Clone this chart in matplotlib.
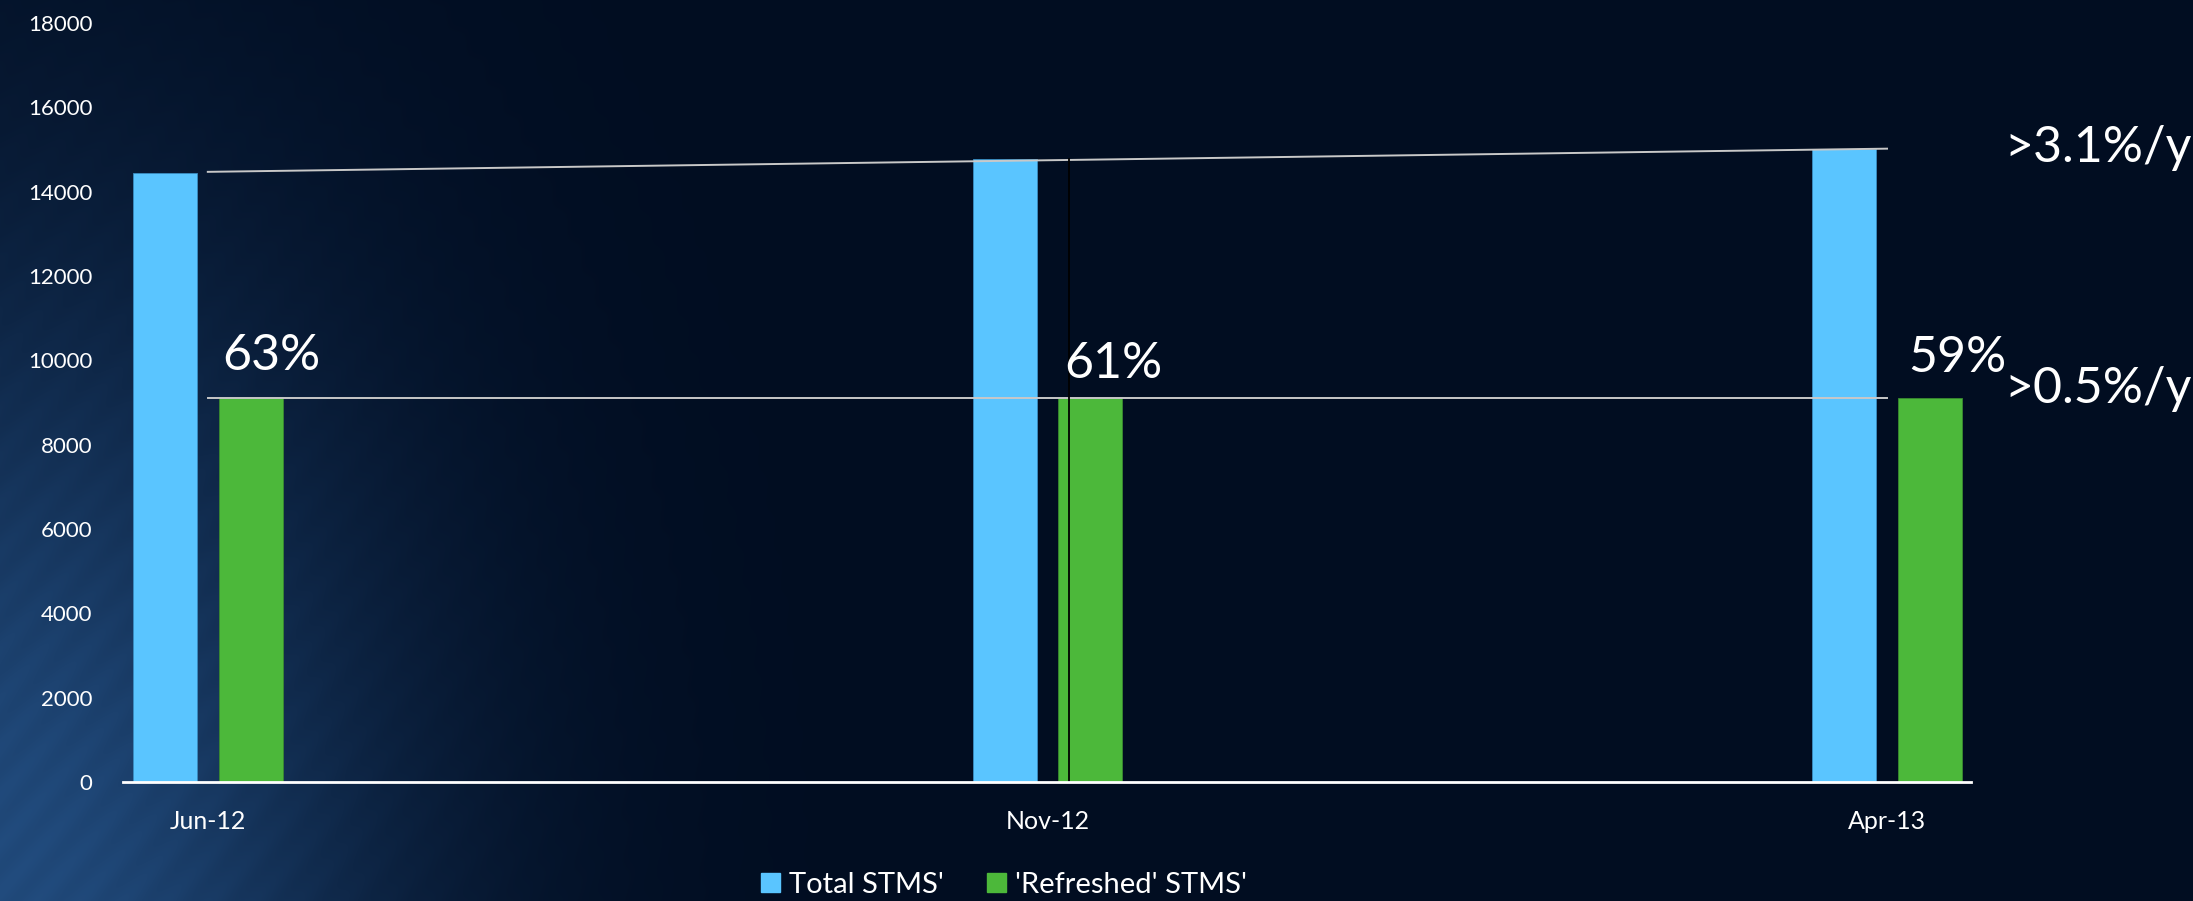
import matplotlib
matplotlib.use('Agg')
import matplotlib.pyplot as plt
import numpy as np
from matplotlib.patches import Patch

# ---------------- data ----------------
categories = ['Jun-12', 'Nov-12', 'Apr-13']
total_stms = [14450, 14780, 15020]
refreshed_stms = [9100, 9100, 9100]
pct_labels = ['63%', '61%', '59%']
pct_heights = [9770, 9590, 9730]
trend_top = [14470, 15020]
trend_low = [9110, 9110]
growth_labels = ['>3.1%/y', '>0.5%/y']
yticks = list(range(0, 18001, 2000))

blue = '#5AC5FF'
green = '#4CB83A'
font = ['Lato', 'DejaVu Sans']

W, H = 2193, 901
fig = plt.figure(figsize=(W / 100, H / 100), dpi=100)

# background: dark navy with a bluish glow at lower left
bg = fig.add_axes([0, 0, 1, 1], zorder=-10)
yy, xx = np.mgrid[0:H, 0:W]
d = np.sqrt((xx / 380.0) ** 2 + ((H - yy) / 620.0) ** 2)
glow = np.exp(-d ** 2) * 0.75
streak = 0.06 * (np.sin((xx + yy * 0.9) / 7.0) * 0.5 + 0.5) * glow
base = np.array([1, 13, 33]) / 255.0
lite = np.array([42, 92, 150]) / 255.0
img = base + (glow + streak)[..., None] * (lite - base)
bg.imshow(np.clip(img, 0, 1), aspect='auto', extent=[0, 1, 0, 1])
bg.axis('off')

ax = fig.add_axes([123 / W, 1 - 782 / H, (1971 - 123) / W, (782 - 23) / H])
ax.patch.set_alpha(0)

x = np.arange(len(categories))
w = 0.076
ax.bar(x - 0.051, total_stms, w, color=blue, edgecolor='#3a8cc0', linewidth=0.6, zorder=2)
ax.bar(x + 0.051, refreshed_stms, w, color=green, edgecolor='#3a8a30', linewidth=0.6, zorder=2)

# trend lines
ax.plot([x[0], x[-1]], trend_top, color='#c8c8c8', lw=1.4, zorder=3)
ax.plot([x[0], x[-1]], trend_low, color='#c8c8c8', lw=1.4, zorder=3)

# thin black marker line in the middle group
ax.plot([x[1] + 0.026, x[1] + 0.026], [0, total_stms[1]], color='black', lw=1.3, zorder=4)

offs = [0.017, 0.02, 0.025]
for i, (lab, h) in enumerate(zip(pct_labels, pct_heights)):
    ax.text(x[i] + offs[i], h, lab, color='white', fontsize=36, family=font,
            ha='left', va='baseline', zorder=5)

ax.set_xlim(-0.101, 2.1)
ax.set_ylim(0, 18000)
ax.set_yticks(yticks)
ax.set_xticks(x)
ax.set_xticklabels(categories)
ax.tick_params(axis='both', length=0, colors='white')
ax.tick_params(axis='y', pad=22, labelsize=16)
ax.tick_params(axis='x', pad=20, labelsize=18)
for lbl in ax.get_xticklabels() + ax.get_yticklabels():
    lbl.set_family(font)
for s in ['top', 'right', 'left']:
    ax.spines[s].set_visible(False)
ax.spines['bottom'].set_color('white')
ax.spines['bottom'].set_linewidth(2)
ax.spines['bottom'].set_zorder(6)

fig.text(2004 / W, 1 - 162 / H, growth_labels[0], color='white', fontsize=36,
         family=font, ha='left', va='baseline')
fig.text(2004 / W, 1 - 403 / H, growth_labels[1], color='white', fontsize=36,
         family=font, ha='left', va='baseline')

handles = [Patch(color=blue, label="Total STMS'"),
           Patch(color=green, label="'Refreshed' STMS'")]
leg = fig.legend(handles=handles, loc='center', bbox_to_anchor=(1004 / W, 1 - 885 / H),
                 ncol=2, frameon=False, handlelength=0.65, handleheight=0.65,
                 handletextpad=0.3, columnspacing=1.5, prop={'family': font, 'size': 21})
for t in leg.get_texts():
    t.set_color('white')

fig.savefig('out.png', dpi=100)
